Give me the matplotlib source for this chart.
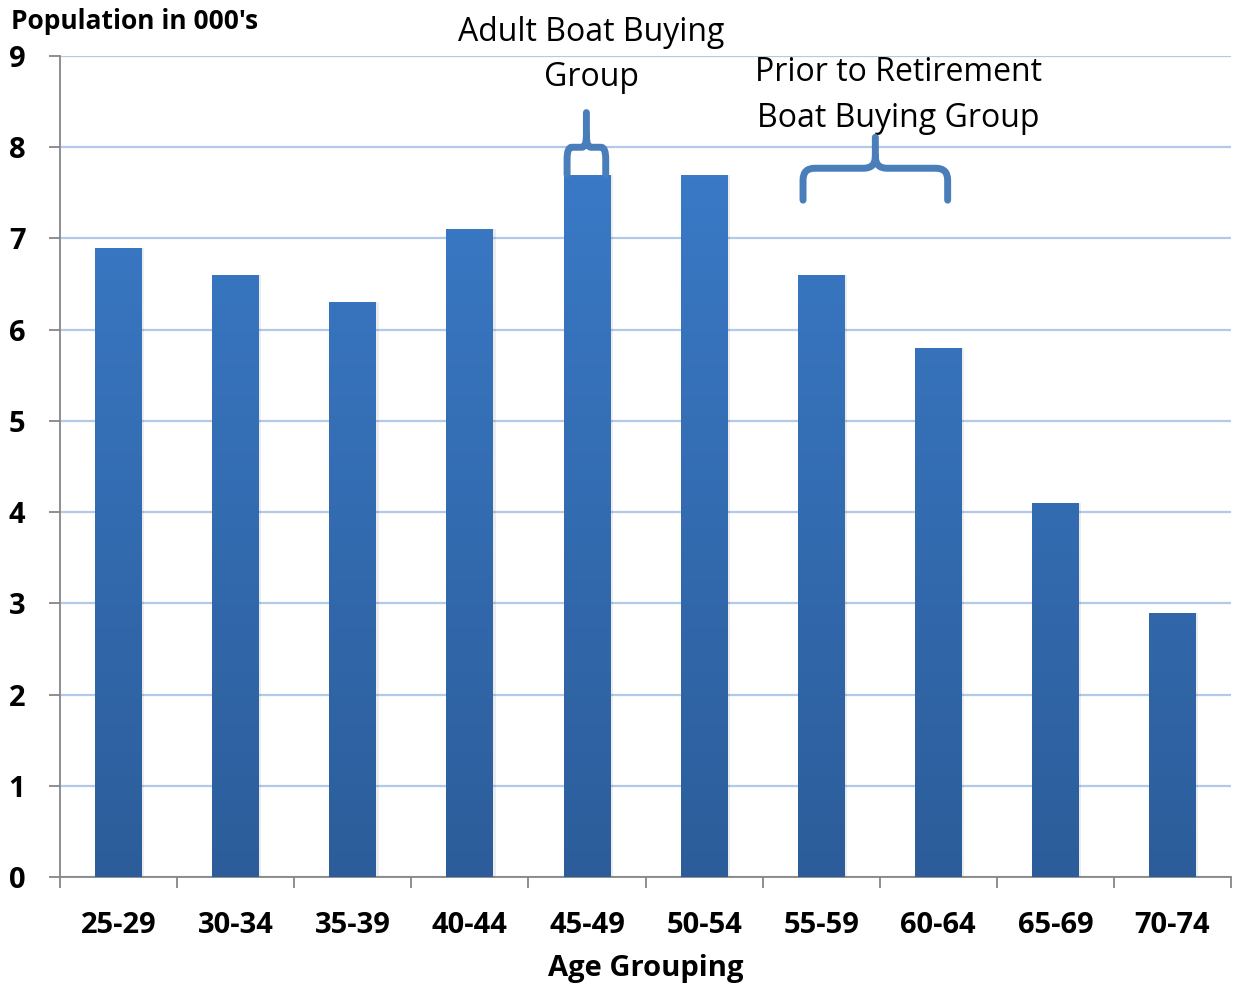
import numpy as np
import matplotlib

matplotlib.use("Agg")
import matplotlib.pyplot as plt
from matplotlib.colors import LinearSegmentedColormap
from matplotlib.path import Path
from matplotlib.patches import PathPatch

plt.rcParams["font.family"] = ["Open Sans", "DejaVu Sans"]

age_groups = ["25-29", "30-34", "35-39", "40-44", "45-49",
              "50-54", "55-59", "60-64", "65-69", "70-74"]
population = [6.9, 6.6, 6.3, 7.1, 7.7, 7.7, 6.6, 5.8, 4.1, 2.9]
y_ticks = [0, 1, 2, 3, 4, 5, 6, 7, 8, 9]

adult_label = "Adult Boat Buying\nGroup"
retire_label = "Prior to Retirement\nBoat Buying Group"

brace_color = "#4a7ebb"
grad = LinearSegmentedColormap.from_list("bar", ["#2c5d9a", "#3c7ecd"])

fig = plt.figure(figsize=(12.33, 9.85), dpi=100)
ax = fig.add_axes([0.0487, 0.1096, 0.9497, 0.8335])

x = np.arange(len(age_groups))
bars = ax.bar(x, population, width=0.40, color="none", zorder=3)

# vertical gradient fill, clipped to each bar
gradient = np.linspace(0, 1, 256).reshape(-1, 1)
for bar in bars:
    x0, y0 = bar.get_x(), bar.get_y()
    w, h = bar.get_width(), bar.get_height()
    # soft shadow
    ax.bar(x0 + w / 2 + 0.02, h, width=w, bottom=y0, color="#000000",
           alpha=0.07, zorder=2)
    img = ax.imshow(gradient, cmap=grad, aspect="auto", origin="lower",
                    extent=[x0, x0 + w, 0, 9], zorder=3)
    img.set_clip_path(bar)

ax.set_xlim(-0.5, len(age_groups) - 0.5)
ax.set_ylim(0, 9)

ax.set_yticks(y_ticks)
ax.set_yticklabels([str(t) for t in y_ticks], fontsize=21, fontweight="bold")
ax.set_xticks(x)
ax.set_xticklabels(age_groups, fontsize=21, fontweight="bold")
ax.set_xticks(np.arange(-0.5, len(age_groups)), minor=True)
ax.tick_params(axis="x", which="major", length=0, pad=24.5)
ax.tick_params(axis="x", which="minor", length=8, width=1.3, color="#868686", direction="out")
ax.tick_params(axis="y", length=8, width=1.3, color="#868686", pad=17)

ax.yaxis.grid(True, color="#b3c9ea", linewidth=1.6, zorder=0)
ax.set_axisbelow(True)
for side in ("top", "right"):
    ax.spines[side].set_visible(False)
for side in ("left", "bottom"):
    ax.spines[side].set_color("#868686")
    ax.spines[side].set_linewidth(1.3)

ax.set_xlabel("Age Grouping", fontsize=21, fontweight="bold", labelpad=10)
fig.text(0.009, 0.978, "Population in 000's", fontsize=19, fontweight="bold",
         ha="left", va="center")


def brace(x_left, x_right, y_bottom, y_mid, y_top):
    xc = (x_left + x_right) / 2
    rx = min(0.1, (x_right - x_left) * 0.12)
    ry = 0.13
    verts = [
        (x_left, y_bottom), (x_left, y_mid - ry),
        (x_left, y_mid), (x_left + rx, y_mid),
        (xc - rx, y_mid),
        (xc, y_mid), (xc, y_mid + ry),
        (xc, y_top),
        (xc, y_mid + ry),
        (xc, y_mid), (xc + rx, y_mid),
        (x_right - rx, y_mid),
        (x_right, y_mid), (x_right, y_mid - ry),
        (x_right, y_bottom),
    ]
    codes = [
        Path.MOVETO, Path.LINETO,
        Path.CURVE3, Path.CURVE3,
        Path.LINETO,
        Path.CURVE3, Path.CURVE3,
        Path.LINETO,
        Path.MOVETO,
        Path.CURVE3, Path.CURVE3,
        Path.LINETO,
        Path.CURVE3, Path.CURVE3,
        Path.LINETO,
    ]
    patch = PathPatch(Path(verts, codes), facecolor="none", edgecolor=brace_color,
                      linewidth=5, capstyle="round", joinstyle="round",
                      zorder=4, clip_on=False)
    ax.add_patch(patch)


brace(3.83, 4.16, 7.70, 8.0, 8.38)
brace(5.845, 7.08, 7.42, 7.77, 8.11)

ax.text(4.04, 9.01, adult_label, fontsize=23, ha="center", va="center",
        linespacing=1.5)
ax.text(6.66, 8.57, retire_label, fontsize=23, ha="center", va="center",
        linespacing=1.5)

fig.savefig("out.png", dpi=100)
